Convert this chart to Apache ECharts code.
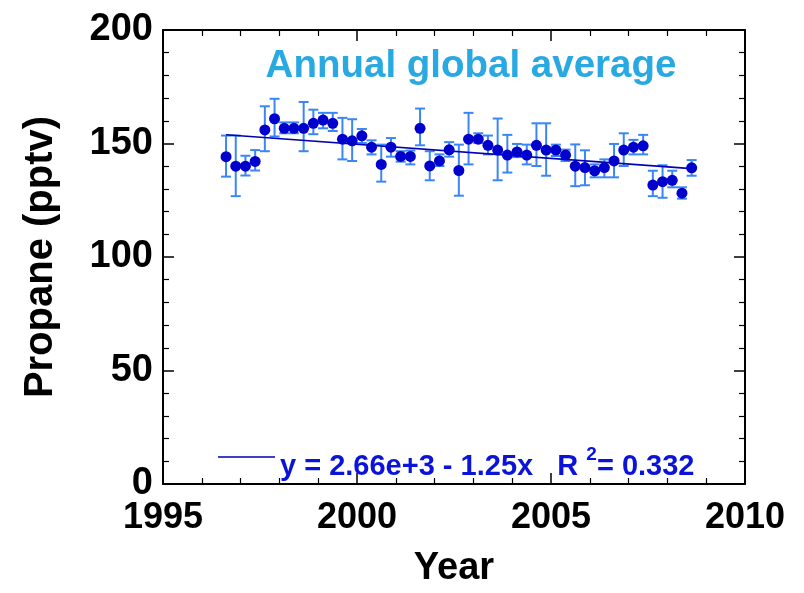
<!DOCTYPE html>
<html>
<head>
<meta charset="utf-8">
<script src="https://cdn.jsdelivr.net/npm/echarts@6/dist/echarts.min.js"></script>
<style>
html,body{margin:0;padding:0;background:#fff;}
#chart{width:804px;height:593px;}
</style>
</head>
<body>
<div id="chart"></div>
<script>
const years = [1996.625,1996.875,1997.125,1997.375,1997.625,1997.875,1998.125,1998.375,1998.625,1998.875,
  1999.125,1999.375,1999.625,1999.875,2000.125,2000.375,2000.625,2000.875,2001.125,2001.375,
  2001.625,2001.875,2002.125,2002.375,2002.625,2002.875,2003.125,2003.375,2003.625,2003.875,
  2004.125,2004.375,2004.625,2004.875,2005.125,2005.375,2005.625,2005.875,2006.125,2006.375,
  2006.625,2006.875,2007.125,2007.375,2007.625,2007.875,2008.125,2008.375,2008.625];
const propane = [144.2,140.0,140.0,142.1,156.0,160.9,156.7,156.7,156.7,158.9,
  160.3,158.9,151.9,151.2,153.4,148.4,140.8,148.4,144.3,144.3,
  156.7,140.1,142.3,147.2,138.1,151.9,151.9,149.2,147.1,144.9,
  146.3,144.9,149.2,147.1,147.1,144.9,140.0,139.4,138.0,139.4,
  142.3,147.1,148.4,149.0,131.7,133.2,133.8,128.1,139.3];
const upper = [153.5,153.5,144.6,147.1,166.4,169.7,159.3,159.3,168.3,164.9,
  163.5,163.5,161.3,160.7,156.4,151.4,149.5,152.4,146.6,146.9,
  165.4,146.6,145.2,150.6,149.5,163.5,154.5,153.5,161.0,153.8,
  149.8,149.5,158.9,158.9,149.5,147.3,149.6,147.0,140.8,143.0,
  149.8,154.5,151.6,153.8,138.0,140.4,138.0,130.7,142.7];
const lower = [135.4,126.8,135.9,138.1,146.6,153.1,154.5,154.5,146.6,154.1,
  156.7,155.5,143.0,142.3,150.2,145.2,133.2,144.2,142.0,140.8,
  149.2,133.8,140.1,144.2,127.0,140.8,150.2,145.2,133.8,137.2,
  144.0,140.8,140.1,135.8,144.5,142.3,131.2,131.6,135.1,135.1,
  135.1,140.1,145.2,145.2,126.8,126.1,130.7,125.7,135.8];
const titleText = 'Annual global average';
const xName = 'Year';
const yName = 'Propane (pptv)';
const fitLabelParts = ['y = 2.66e+3 - 1.25x   R ', '2', '= 0.332'];

// least-squares fit from the data
const n = years.length;
let sx=0, sy=0, sxx=0, sxy=0;
for (let i=0;i<n;i++){ sx+=years[i]; sy+=propane[i]; sxx+=years[i]*years[i]; sxy+=years[i]*propane[i]; }
const slope = (n*sxy - sx*sy)/(n*sxx - sx*sx);
const intercept = (sy - slope*sx)/n;
const fitLine = [[years[0], intercept+slope*years[0]], [years[n-1], intercept+slope*years[n-1]]];

const FONT = '"Liberation Sans", Arial, sans-serif';
const ctx = document.createElement('canvas').getContext('2d');
function textW(t, size){ ctx.font = 'bold ' + size + 'px ' + FONT; return ctx.measureText(t).width; }
const legX = 280, legSize = 29, supSize = 19;
const w1 = textW(fitLabelParts[0], legSize);
const w2 = textW(fitLabelParts[1], supSize);

const chart = echarts.init(document.getElementById('chart'), null, {renderer:'canvas'});

const axisCommon = {
  axisLine:{show:true, onZero:false, lineStyle:{color:'#000', width:2}},
  axisTick:{show:true, inside:true, length:11, lineStyle:{color:'#000', width:1.5}},
  minorTick:{show:true, splitNumber:5, length:6, lineStyle:{color:'#000', width:1.2}},
  splitLine:{show:false}
};
const legStyle = {fontWeight:'bold', fontFamily:FONT, fill:'#0a14d8', align:'left'};

chart.setOption({
  animation:false,
  backgroundColor:'#fff',
  grid:{left:163, right:59, top:30, bottom:100, containLabel:false},
  title:{text:titleText, left:466, top:42, textAlign:'center',
    textStyle:{color:'#29a9e1', fontSize:38.5, fontWeight:'bold', fontFamily:FONT}},
  xAxis:[
    Object.assign({type:'value', min:1995, max:2010, interval:5, position:'bottom',
      name:xName, nameLocation:'middle', nameGap:66,
      nameTextStyle:{color:'#000', fontSize:38, fontWeight:'bold', fontFamily:FONT},
      axisLabel:{color:'#000', fontSize:36, fontWeight:'bold', fontFamily:FONT, margin:16,
        formatter:function(v){return String(v);}}}, axisCommon),
    Object.assign({type:'value', min:1995, max:2010, interval:5, position:'top',
      axisLabel:{show:false}}, axisCommon)
  ],
  yAxis:[
    Object.assign({type:'value', min:0, max:200, interval:50, position:'left',
      name:yName, nameLocation:'middle', nameGap:102,
      nameTextStyle:{color:'#000', fontSize:40, fontWeight:'bold', fontFamily:FONT},
      axisLabel:{color:'#000', fontSize:38, fontWeight:'bold', fontFamily:FONT, margin:10}}, axisCommon),
    Object.assign({type:'value', min:0, max:200, interval:50, position:'right',
      axisLabel:{show:false}}, axisCommon)
  ],
  series:[
    {
      type:'custom', xAxisIndex:0, yAxisIndex:0, z:2,
      data: years.map((x,i)=>[x, lower[i], upper[i]]),
      renderItem:function(params, api){
        const x = api.value(0);
        const pLo = api.coord([x, api.value(1)]);
        const pHi = api.coord([x, api.value(2)]);
        const w = 5;
        const st = {stroke:'#3a86f7', lineWidth:2};
        return {type:'group', children:[
          {type:'line', shape:{x1:pLo[0], y1:pLo[1], x2:pHi[0], y2:pHi[1]}, style:st},
          {type:'line', shape:{x1:pHi[0]-w, y1:pHi[1], x2:pHi[0]+w, y2:pHi[1]}, style:st},
          {type:'line', shape:{x1:pLo[0]-w, y1:pLo[1], x2:pLo[0]+w, y2:pLo[1]}, style:st}
        ]};
      }
    },
    {
      type:'line', xAxisIndex:0, yAxisIndex:0, z:3,
      data: fitLine, symbol:'none',
      lineStyle:{color:'#0000b4', width:1.6}
    },
    {
      type:'scatter', xAxisIndex:0, yAxisIndex:0, z:4,
      data: years.map((x,i)=>[x, propane[i]]),
      symbol:'circle', symbolSize:11,
      itemStyle:{color:'#0000cc', opacity:1}
    }
  ],
  graphic:[
    {type:'line', z:10, shape:{x1:218, y1:457, x2:275, y2:457}, style:{stroke:'#0000b4', lineWidth:1.6}},
    {type:'text', z:10, x:legX, y:467,
      style:Object.assign({text:fitLabelParts[0], fontSize:legSize, verticalAlign:'middle'}, legStyle)},
    {type:'text', z:10, x:legX + w1, y:455,
      style:Object.assign({text:fitLabelParts[1], fontSize:supSize, verticalAlign:'middle'}, legStyle)},
    {type:'text', z:10, x:legX + w1 + w2, y:467,
      style:Object.assign({text:fitLabelParts[2], fontSize:legSize, verticalAlign:'middle'}, legStyle)}
  ]
});
</script>
</body>
</html>
